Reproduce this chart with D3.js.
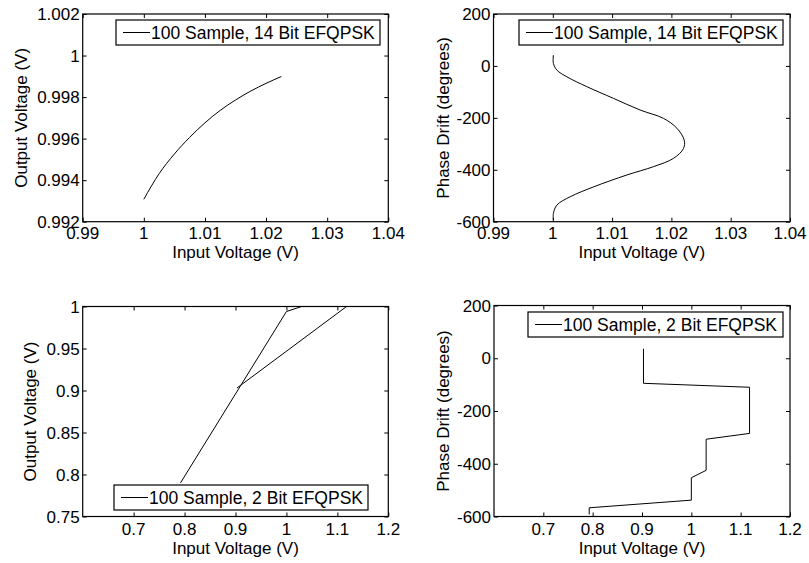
<!DOCTYPE html>
<html>
<head>
<meta charset="utf-8">
<script src="https://cdn.jsdelivr.net/npm/d3@7"></script>
<style>
  body { margin: 0; background: #fff; }
  text { font-family: "Liberation Sans", Arial, sans-serif; font-size: 17px; fill: #000; }
  text.leg { font-size: 17.5px; }
</style>
</head>
<body>
<div id="chart"></div>
<script>
var width = 809;
var height = 563;

// top-left: AM/AM, 14 bit
var amX14 = [1.0000, 1.0025, 1.0050, 1.0075, 1.0100, 1.0125, 1.0150, 1.0175, 1.0200, 1.0225];
var amY14 = [0.99308, 0.99431, 0.99526, 0.99606, 0.99676, 0.99736, 0.99786, 0.99829, 0.99866, 0.99899];

// top-right: AM/PM, 14 bit
var pmX14 = [1.0001, 1.0001, 1.00069, 1.00238, 1.00575, 1.01024, 1.01474, 1.01867, 1.02093, 1.02216, 1.02204, 1.02035, 1.01698, 1.0125, 1.00686, 1.00293, 1.00069, 1.0001, 1.0001];
var pmY14 = [42, 10, -16, -42, -80, -125, -170, -202, -240, -286, -318, -356, -388, -420, -466, -504, -536, -568, -593];

// bottom-left: AM/AM, 2 bit
var amX2 = [0.903, 1.118, 1.03, 1.0, 0.792];
var amY2 = [0.903, 1.0, 1.0, 0.994, 0.79];

// bottom-right: AM/PM, 2 bit
var pmX2 = [0.903, 0.903, 1.118, 1.118, 1.03, 1.03, 1.0, 1.0, 0.793, 0.793];
var pmY2 = [36, -95, -110, -285, -307, -425, -453, -538, -567, -592];

var ticks14X = [0.99, 1, 1.01, 1.02, 1.03, 1.04];
var ticks14Y = [0.992, 0.994, 0.996, 0.998, 1, 1.002];
var ticks2X = [0.7, 0.8, 0.9, 1, 1.1, 1.2];
var ticks2Y = [0.75, 0.8, 0.85, 0.9, 0.95, 1];
var ticksPhase = [-600, -400, -200, 0, 200];

var legend14 = "100 Sample, 14 Bit EFQPSK";
var legend2 = "100 Sample, 2 Bit EFQPSK";

var svg = d3.select("#chart")
            .append("svg")
            .attr("width", width)
            .attr("height", height);

var panels = [
  {x0: 82.7, x1: 388.3, y0: 14, y1: 221.7, xd: [0.99, 1.04], yd: [0.992, 1.002],
   xt: ticks14X, yt: ticks14Y, xs: amX14, ys: amY14, curve: d3.curveMonotoneX,
   ylab: "Output Voltage (V)", ylabX: 27, xtY: 239, xlabY: 258,
   leg: legend14, lx: 116, ly: 20, lw: 264},
  {x0: 493.5, x1: 790, y0: 14, y1: 221.7, xd: [0.99, 1.04], yd: [-600, 200],
   xt: ticks14X, yt: ticksPhase, xs: pmX14, ys: pmY14, curve: d3.curveCatmullRom,
   ylab: "Phase Drift (degrees)", ylabX: 449, xtY: 239, xlabY: 258,
   leg: legend14, lx: 519, ly: 20, lw: 264},
  {x0: 82.7, x1: 388.3, y0: 306.5, y1: 516.5, xd: [0.6, 1.2], yd: [0.75, 1],
   xt: ticks2X, yt: ticks2Y, xs: amX2, ys: amY2, curve: d3.curveLinear,
   ylab: "Output Voltage (V)", ylabX: 36, xtY: 535, xlabY: 554,
   leg: legend2, lx: 114, ly: 485, lw: 254},
  {x0: 494, x1: 790, y0: 305.5, y1: 516.5, xd: [0.6, 1.2], yd: [-600, 200],
   xt: ticks2X, yt: ticksPhase, xs: pmX2, ys: pmY2, curve: d3.curveLinear,
   ylab: "Phase Drift (degrees)", ylabX: 449, xtY: 535, xlabY: 554,
   leg: legend2, lx: 528, ly: 312, lw: 255}
];

panels.forEach(function(p, i){
    var x = d3.scaleLinear().domain(p.xd).range([p.x0, p.x1]);
    var y = d3.scaleLinear().domain(p.yd).range([p.y1, p.y0]);
    var g = svg.append("g");
    var tl = 4;

    g.append("clipPath")
        .attr("id", "clip" + i)
        .append("rect")
        .attr("x", p.x0).attr("y", p.y0)
        .attr("width", p.x1 - p.x0).attr("height", p.y1 - p.y0);

    // inward ticks on all four sides
    g.append("g").attr("transform", "translate(0," + p.y1 + ")")
        .call(d3.axisBottom(x).tickValues(p.xt).tickSizeInner(-tl).tickSizeOuter(0).tickFormat(""));
    g.append("g").attr("transform", "translate(0," + p.y0 + ")")
        .call(d3.axisTop(x).tickValues(p.xt).tickSizeInner(-tl).tickSizeOuter(0).tickFormat(""));
    g.append("g").attr("transform", "translate(" + p.x0 + ",0)")
        .call(d3.axisLeft(y).tickValues(p.yt).tickSizeInner(-tl).tickSizeOuter(0).tickFormat(""));
    g.append("g").attr("transform", "translate(" + p.x1 + ",0)")
        .call(d3.axisRight(y).tickValues(p.yt).tickSizeInner(-tl).tickSizeOuter(0).tickFormat(""));
    g.selectAll(".domain").remove();
    g.selectAll(".tick line").attr("stroke", "#000");

    // tick labels
    g.selectAll("text.xt")
        .data(p.xt)
        .enter()
        .append("text")
        .attr("x", function(d){ return x(d); })
        .attr("y", p.xtY)
        .attr("text-anchor", "middle")
        .text(function(d){ return d; });
    g.selectAll("text.yt")
        .data(p.yt)
        .enter()
        .append("text")
        .attr("x", p.x0 - 3)
        .attr("y", function(d){ return y(d) + 6; })
        .attr("text-anchor", "end")
        .text(function(d){ return d; });

    // data line
    var line = d3.line()
        .x(function(d){ return x(d[0]); })
        .y(function(d){ return y(d[1]); })
        .curve(p.curve);
    g.append("path")
        .datum(d3.zip(p.xs, p.ys))
        .attr("clip-path", "url(#clip" + i + ")")
        .attr("d", line)
        .attr("fill", "none")
        .attr("stroke", "#000")
        .attr("stroke-width", 1);

    // box
    g.append("rect")
        .attr("x", p.x0).attr("y", p.y0)
        .attr("width", p.x1 - p.x0).attr("height", p.y1 - p.y0)
        .attr("fill", "none")
        .attr("stroke", "#000")
        .attr("stroke-width", 1.2);

    // axis titles
    g.append("text")
        .attr("x", (p.x0 + p.x1) / 2)
        .attr("y", p.xlabY)
        .attr("text-anchor", "middle")
        .text("Input Voltage (V)");
    g.append("text")
        .attr("transform", "translate(" + p.ylabX + "," + ((p.y0 + p.y1) / 2) + ") rotate(-90)")
        .attr("text-anchor", "middle")
        .text(p.ylab);

    // legend
    g.append("rect")
        .attr("x", p.lx).attr("y", p.ly)
        .attr("width", p.lw).attr("height", 25)
        .attr("fill", "#fff")
        .attr("stroke", "#000")
        .attr("stroke-width", 1.2);
    g.append("line")
        .attr("x1", p.lx + 7).attr("x2", p.lx + 34)
        .attr("y1", p.ly + 12.5).attr("y2", p.ly + 12.5)
        .attr("stroke", "#000");
    g.append("text")
        .attr("class", "leg")
        .attr("x", p.lx + 35)
        .attr("y", p.ly + 19)
        .text(p.leg);
});
</script>
</body>
</html>
